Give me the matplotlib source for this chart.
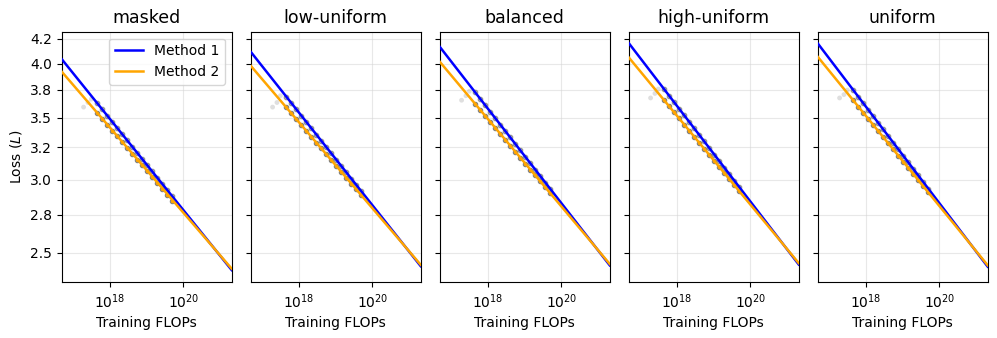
import matplotlib.pyplot as plt
import numpy as np
from matplotlib.ticker import NullLocator

# panel names
titles = ['masked', 'low-uniform', 'balanced', 'high-uniform', 'uniform']

# fitted lines, read at the two x-limits (5e16 .. 2.1e21)
fit_x = [4.8e16, 2.1e21]
m1_fit = [[4.000, 2.397], [4.072, 2.420], [4.122, 2.425], [4.159, 2.430], [4.156, 2.417]]
m2_fit = [[3.880, 2.405], [3.936, 2.428], [3.975, 2.433], [4.017, 2.438], [4.023, 2.425]]

# compute values of the runs
flops = [4.5e17, 6.1e17, 8.4e17, 1.15e18, 1.57e18, 2.15e18, 2.95e18, 4.05e18,
         5.5e18, 7.6e18, 1.04e19, 1.42e19, 1.95e19, 2.67e19, 3.66e19, 5.0e19]

# losses of the runs (method 1 points, gray)
m1_loss = [
    [3.594, 3.540, 3.487, 3.435, 3.384, 3.333, 3.283, 3.234, 3.185, 3.138, 3.091, 3.045, 2.999, 2.954, 2.910, 2.866],
    [3.652, 3.597, 3.542, 3.488, 3.435, 3.383, 3.331, 3.281, 3.231, 3.182, 3.133, 3.085, 3.039, 2.992, 2.947, 2.902],
    [3.689, 3.632, 3.576, 3.520, 3.465, 3.412, 3.359, 3.307, 3.255, 3.205, 3.155, 3.106, 3.058, 3.011, 2.964, 2.918],
    [3.717, 3.659, 3.601, 3.545, 3.489, 3.434, 3.380, 3.327, 3.275, 3.223, 3.173, 3.123, 3.074, 3.026, 2.978, 2.931],
    [3.711, 3.652, 3.594, 3.538, 3.481, 3.426, 3.372, 3.319, 3.266, 3.214, 3.163, 3.113, 3.064, 3.016, 2.968, 2.921],
]
# method 2 points (orange)
m2_loss = [
    [3.509, 3.460, 3.411, 3.363, 3.316, 3.269, 3.223, 3.178, 3.134, 3.090, 3.046, 3.004, 2.961, 2.920, 2.879, 2.838],
    [3.558, 3.508, 3.458, 3.409, 3.361, 3.314, 3.267, 3.221, 3.175, 3.130, 3.086, 3.042, 2.999, 2.957, 2.915, 2.874],
    [3.587, 3.536, 3.485, 3.435, 3.385, 3.337, 3.289, 3.242, 3.195, 3.149, 3.104, 3.059, 3.016, 2.972, 2.930, 2.888],
    [3.619, 3.566, 3.514, 3.463, 3.412, 3.362, 3.313, 3.265, 3.217, 3.170, 3.124, 3.078, 3.034, 2.989, 2.946, 2.903],
    [3.619, 3.565, 3.513, 3.461, 3.409, 3.359, 3.309, 3.260, 3.212, 3.165, 3.118, 3.072, 3.026, 2.981, 2.937, 2.894],
]

# small runs that fall off the trend (faint gray)
off_x = [1.9e17, 2.5e17, 3.1e17]
off_loss = [
    [3.56, 3.60, 3.63],
    [3.56, 3.60, 3.66],
    [3.62, 3.66, 3.70],
    [3.64, 3.68, 3.72],
    [3.64, 3.67, 3.71],
]

ytick_vals = [2.5, 2.743, 2.986, 3.229, 3.471, 3.714, 3.957, 4.2]
ytick_labels = ['2.5', '2.8', '3.0', '3.2', '3.5', '3.8', '4.0', '4.2']
xtick_vals = [1e18, 1e20]

fig = plt.figure(figsize=(9.97, 3.38), dpi=100)

for i, name in enumerate(titles):
    ax = fig.add_axes([(61.7 + 189 * i) / 997, 55.7 / 338, 170 / 997, 250.6 / 338])
    ax.set_xscale('log')
    ax.set_yscale('log')

    ax.scatter(off_x, off_loss[i], s=12, color='gray', alpha=0.25, edgecolors='none', zorder=2)
    ax.scatter(flops, m1_loss[i], s=11, facecolor='gray', edgecolors='dimgray',
               linewidths=0.8, alpha=0.6, zorder=2)
    ax.scatter(flops, m2_loss[i], s=10, facecolor='orange', edgecolors='gray',
               linewidths=0.8, zorder=3)

    ax.plot(fit_x, m1_fit[i], color='blue', lw=1.8, label='Method 1', zorder=4)
    ax.plot(fit_x, m2_fit[i], color='orange', lw=1.8, label='Method 2', zorder=4)

    ax.set_xlim(4.8e16, 2.1e21)
    ax.set_ylim(2.327, 4.275)
    ax.set_xticks(xtick_vals)
    ax.xaxis.set_minor_locator(NullLocator())
    ax.yaxis.set_minor_locator(NullLocator())
    ax.set_yticks(ytick_vals)
    if i == 0:
        ax.set_yticklabels(ytick_labels)
        ax.set_ylabel('Loss ($L$)', fontsize=10)
        ax.legend(loc='upper right', fontsize=10)
    else:
        ax.set_yticklabels([])
    ax.tick_params(labelsize=10)
    ax.grid(True, color='lightgray', alpha=0.5, lw=0.8)
    ax.set_axisbelow(True)
    ax.set_title(name, fontsize=12.5)
    ax.set_xlabel('Training FLOPs', fontsize=10)

plt.savefig('out.png', dpi=100)
plt.close()
